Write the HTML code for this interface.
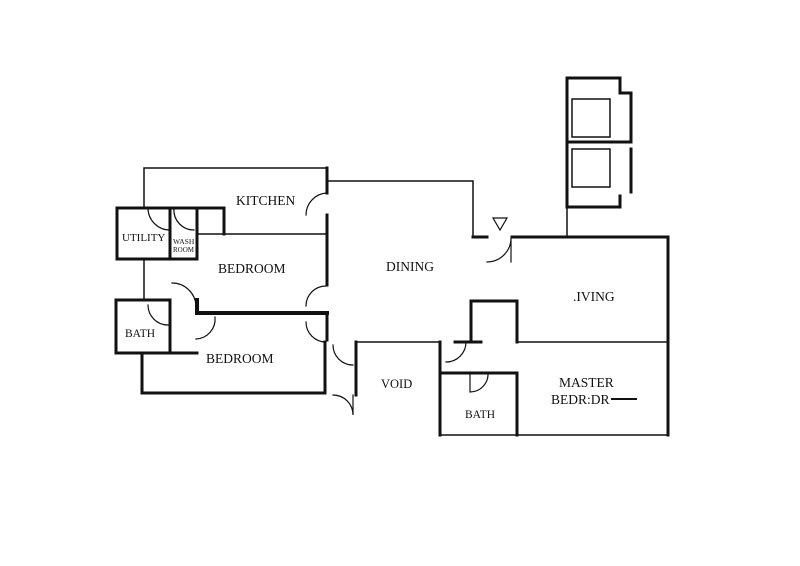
<!DOCTYPE html>
<html><head><style>body{margin:0;background:#fff}svg{display:block}text{font-family:"Liberation Serif",serif;fill:#111}</style></head><body>
<svg width="800" height="566" viewBox="0 0 800 566" xmlns="http://www.w3.org/2000/svg">
<g stroke="#111" fill="none" stroke-linecap="square">
<g stroke-width="1.5">
<path d="M144 208V168H327"/>
<path d="M144 259V300"/>
<path d="M197 234H327"/>
<path d="M327 181H473V237"/>
<path d="M567 207V237"/>
<path d="M356 342H440"/>
<path d="M517 342H668"/>
<path d="M440 435H668"/>
<path d="M572 99h38v38h-38z M572 149h38v38h-38z"/>
</g>
<g stroke-width="3">
<path d="M117 208h53v51h-53z"/>
<path d="M170 208h27v51h-27z"/>
<path d="M197 234V208h27v26"/>
<path d="M116 300h54v53h-54z"/>
<path d="M170 353h27"/>
<path d="M197 300V313H327" stroke-width="4"/>
<path d="M142 353V393H325"/>
<path d="M327 168V193 M327 215V285 M327 340V313"/>
<path d="M325 342V393"/>
<path d="M356 342V395"/>
<path d="M473 237H487 M512 237H668V435"/>
<path d="M440 342V435"/>
<path d="M441 373H517V435"/>
<path d="M471 342V301H517V342"/>
<path d="M455 342H481"/>
<path d="M567 207V78H620V93H631V140 M567 142H631 M631 149V192 M620 196V207H567"/>
</g>
<g stroke-width="1.2">
<path d="M306 215A22 22 0 0 1 327 193"/>
<path d="M148 208A22 22 0 0 0 170 230"/>
<path d="M174 208A20 20 0 0 0 194 230"/>
<path d="M306 306A20 20 0 0 1 326 286"/>
<path d="M306 322A20 20 0 0 0 326 342"/>
<path d="M172 283A24 24 0 0 1 196 306"/>
<path d="M196 339A20 20 0 0 0 215 317"/>
<path d="M148 305A20 20 0 0 0 168 325"/>
<path d="M333 345A20 20 0 0 0 353 365"/>
<path d="M333 395A20 20 0 0 1 353 415V395"/>
<path d="M446 362A20 20 0 0 0 466 342"/>
<path d="M487 262A24 24 0 0 0 511 238V262"/>
<path d="M470 373V392A18 18 0 0 0 488 373"/>
<path d="M493 218h14l-7 12z"/>
<path d="M612 399H636" stroke-width="2"/>
</g>
</g>
<g font-size="13.5">
<text x="236" y="205">KITCHEN</text>
<text x="122" y="241" font-size="11">UTILITY</text>
<text x="173" y="244" font-size="7.5">WASH</text>
<text x="173" y="252" font-size="7">ROOM</text>
<text x="218" y="273">BEDROOM</text>
<text x="125" y="337" font-size="11.5">BATH</text>
<text x="206" y="363">BEDROOM</text>
<text x="386" y="271">DINING</text>
<text x="381" y="388" font-size="12.5">VOID</text>
<text x="573" y="301">.IVING</text>
<text x="559" y="387">MASTER</text>
<text x="551" y="404">BEDR:DR</text>
<text x="465" y="418" font-size="11.5">BATH</text>
</g>
</svg>
</body></html>
